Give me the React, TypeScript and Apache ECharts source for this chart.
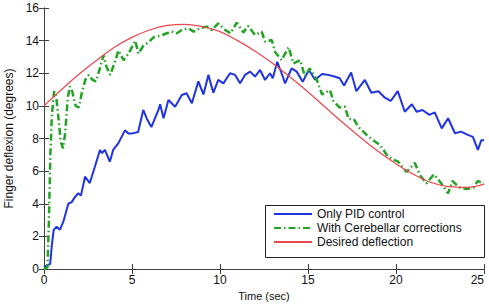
import React, { useEffect, useRef } from "react";
import * as echarts from "echarts";

// Time (s) / deflection (deg) pairs
const pidControl: [number, number][] = [
  [0, 0.1], [0.2, 0.25], [0.35, 0.3], [0.45, 1.5], [0.55, 2.4], [0.72, 2.6], [0.9, 2.4], [1.1, 2.9],
  [1.38, 4.0], [1.57, 4.1], [1.75, 4.4], [1.95, 4.65], [2.1, 4.5], [2.33, 5.66], [2.6, 5.27], [2.9, 6.3],
  [3.18, 7.3], [3.3, 7.1], [3.46, 7.3], [3.74, 6.58], [3.93, 7.3], [4.22, 7.7], [4.6, 8.5], [4.8, 8.3],
  [4.97, 8.3], [5.35, 8.4], [5.64, 9.75], [5.85, 9.2], [6.1, 8.7], [6.5, 9.75], [6.6, 10.1], [6.79, 9.24],
  [7.07, 10.36], [7.45, 9.95], [7.83, 10.67], [8.1, 10.77], [8.4, 10.16], [8.77, 11.5], [9.06, 10.7],
  [9.34, 11.9], [9.62, 10.8], [9.9, 11.59], [10.19, 11.38], [10.57, 12.0], [10.86, 11.9], [11.14, 11.38],
  [11.42, 11.9], [11.71, 12.1], [11.99, 11.8], [12.28, 12.2], [12.56, 11.59], [12.84, 12.0], [13.0, 11.7],
  [13.25, 12.7], [13.5, 12.0], [13.7, 11.38], [14.07, 12.3], [14.36, 12.1], [14.7, 11.48], [15.05, 12.2],
  [15.4, 11.6], [15.8, 11.95], [16.15, 11.9], [16.5, 11.8], [16.8, 11.69], [17.05, 11.25], [17.45, 12.05],
  [17.75, 10.9], [18.23, 11.59], [18.6, 10.8], [19.0, 10.9], [19.37, 10.5], [19.7, 10.3], [20.1, 10.9],
  [20.5, 9.64], [20.9, 10.1], [21.17, 9.64], [21.5, 9.75], [21.9, 9.45], [22.2, 9.6], [22.6, 8.62],
  [22.96, 9.24], [23.35, 8.32], [23.7, 8.42], [24.08, 8.22], [24.37, 8.1], [24.65, 7.3], [24.85, 7.9], [25, 7.9],
];

const cerebellar: [number, number][] = [
  [0, 0], [0.2, 0.1], [0.28, 3], [0.36, 7], [0.45, 9.5], [0.58, 10.9], [0.7, 10.5], [0.82, 9.3],
  [0.95, 7.8], [1.08, 7.4], [1.2, 8.3], [1.35, 10.5], [1.47, 11.2], [1.6, 10.9], [1.8, 10.0], [1.98, 9.9],
  [2.15, 10.8], [2.35, 11.6], [2.55, 11.9], [2.75, 11.6], [2.95, 11.5], [3.15, 12.2], [3.38, 13.1],
  [3.55, 12.4], [3.76, 11.9], [4.0, 12.6], [4.23, 13.4], [4.52, 12.8], [4.8, 13.2], [5.18, 14.0],
  [5.37, 13.2], [5.65, 13.7], [5.94, 13.9], [6.22, 14.2], [6.6, 14.3], [6.98, 14.45], [7.26, 14.55],
  [7.55, 14.45], [7.83, 14.65], [8.2, 14.76], [8.5, 14.55], [8.87, 14.76], [9.25, 14.86], [9.53, 14.65],
  [9.9, 15.06], [10.3, 14.65], [10.6, 14.45], [10.95, 15.1], [11.33, 14.5], [11.6, 14.9], [11.99, 14.35],
  [12.37, 14.55], [12.56, 13.94], [12.94, 14.04], [13.13, 13.3], [13.5, 12.8], [13.9, 13.6], [14.17, 12.6],
  [14.55, 12.8], [14.83, 11.8], [15.1, 12.3], [15.5, 11.6], [15.8, 10.7], [16.25, 10.97], [16.44, 10.3],
  [16.8, 9.9], [17.1, 9.95], [17.3, 9.2], [17.6, 9.2], [17.85, 8.72], [18.33, 8.22], [18.7, 7.9],
  [19.1, 7.6], [19.47, 7.0], [19.84, 6.7], [20.1, 6.6], [20.6, 5.95], [21.07, 6.5], [21.36, 5.76],
  [21.73, 5.25], [22.15, 5.8], [22.5, 5.35], [22.96, 4.64], [23.2, 5.4], [23.6, 5.0], [24.0, 4.9],
  [24.4, 5.0], [24.65, 5.4], [24.85, 5.3], [25, 5.3],
];

const desired: [number, number][] = [
  [0, 10], [1, 11.0], [2, 11.95], [3, 12.8], [4, 13.6], [5, 14.2], [6, 14.65], [7, 14.93], [8, 15.0],
  [9, 14.85], [10, 14.55], [11, 14.0], [12, 13.35], [13, 12.6], [14, 11.75], [15, 10.85], [16, 9.9],
  [17, 8.95], [18, 8.05], [19, 7.2], [20, 6.45], [21, 5.8], [22, 5.3], [23, 5.05], [24, 5.0], [25, 5.2],
];

const seriesNames = ["Only PID control", "With Cerebellar corrections", "Desired deflection"];

const FONT = "Liberation Sans";

export default function App() {
  const ref = useRef<HTMLDivElement>(null);
  useEffect(() => {
    if (!ref.current) return;
    const chart = echarts.init(ref.current, undefined, { renderer: "svg" });
    const axisLineStyle = { color: "#404040", width: 1 };
    chart.setOption({
      animation: false,
      backgroundColor: "#ffffff",
      grid: { left: 44, right: 5, top: 8, bottom: 39, containLabel: false, outerBoundsMode: "none" },
      xAxis: [
        {
          type: "value", min: 0, max: 25, interval: 5,
          name: "Time (sec)", nameLocation: "middle", nameGap: 20,
          nameTextStyle: { fontFamily: FONT, fontSize: 11, color: "#111" },
          axisLine: { show: true, lineStyle: axisLineStyle },
          axisTick: { show: true, inside: true, length: 5, lineStyle: axisLineStyle },
          axisLabel: { fontFamily: FONT, fontSize: 12, color: "#111", margin: 5, alignMaxLabel: "right" },
          splitLine: { show: false },
        },
        {
          type: "value", min: 0, max: 25, interval: 5, position: "top",
          axisLine: { show: true, lineStyle: axisLineStyle },
          axisTick: { show: true, inside: true, length: 5, lineStyle: axisLineStyle },
          axisLabel: { show: false },
          splitLine: { show: false },
        },
      ],
      yAxis: [
        {
          type: "value", min: 0, max: 16, interval: 2,
          name: "Finger deflexion (degrees)", nameLocation: "middle", nameGap: 24,
          nameTextStyle: { fontFamily: FONT, fontSize: 12, color: "#111" },
          axisLine: { show: true, lineStyle: axisLineStyle },
          axisTick: { show: true, inside: true, length: 5, lineStyle: axisLineStyle },
          axisLabel: { fontFamily: FONT, fontSize: 12, color: "#111", margin: 5 },
          splitLine: { show: false },
        },
        {
          type: "value", min: 0, max: 16, interval: 2, position: "right",
          axisLine: { show: true, lineStyle: axisLineStyle },
          axisTick: { show: true, inside: true, length: 5, lineStyle: axisLineStyle },
          axisLabel: { show: false },
          splitLine: { show: false },
        },
      ],
      graphic: [
        {
          type: "rect", left: 265, top: 205, z: 3,
          shape: { width: 219, height: 52 },
          style: { fill: "#ffffff", stroke: "#202020", lineWidth: 1 },
        },
      ],
      legend: {
        orient: "vertical", left: 273, top: 208, z: 4,
        itemWidth: 38, itemHeight: 14, itemGap: 2, padding: 0,
        itemStyle: { opacity: 0 },
        textStyle: { fontFamily: FONT, fontSize: 12, color: "#111" },
        data: seriesNames,
      },
      series: [
        {
          name: seriesNames[0], type: "line", data: pidControl, showSymbol: false, symbol: "none",
          lineStyle: { color: "#1f33e0", width: 2 }, itemStyle: { color: "#1f33e0" }, z: 2,
        },
        {
          name: seriesNames[1], type: "line", data: cerebellar, showSymbol: false, symbol: "none",
          lineStyle: { color: "#23a323", width: 2.5, type: [7, 3, 1.5, 3] }, itemStyle: { color: "#23a323" }, z: 2,
        },
        {
          name: seriesNames[2], type: "line", data: desired, showSymbol: false, symbol: "none", smooth: 0.4,
          lineStyle: { color: "#e8484e", width: 1.2 }, itemStyle: { color: "#e8484e" }, z: 2,
        },
      ],
    });
    return () => chart.dispose();
  }, []);
  return (
    <div
      ref={ref}
      style={{ position: "absolute", left: 0, top: 0, width: 489, height: 308, background: "#fff" }}
    />
  );
}
